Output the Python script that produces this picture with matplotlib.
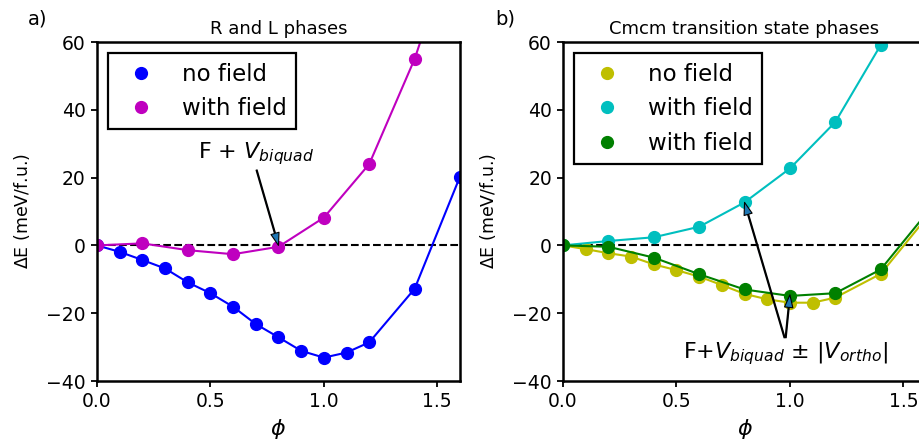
import matplotlib
matplotlib.use('Agg')
import matplotlib.pyplot as plt

# panel a: R and L phases
phi_a_nofield = [0.0, 0.1, 0.2, 0.3, 0.4, 0.5, 0.6, 0.7, 0.8, 0.9, 1.0, 1.1, 1.2, 1.4, 1.6]
e_a_nofield = [0.0, -1.9, -4.3, -6.8, -10.9, -14.1, -18.1, -23.2, -27.1, -31.1, -33.1, -31.6, -28.6, -12.8, 20.3]
phi_a_field = [0.0, 0.2, 0.4, 0.6, 0.8, 1.0, 1.2, 1.4, 1.6]
e_a_field = [0.0, 0.6, -1.4, -2.6, -0.4, 8.2, 24.0, 55.0, 95.0]

# panel b: Cmcm transition state phases
phi_b_nofield = [0.0, 0.1, 0.2, 0.3, 0.4, 0.5, 0.6, 0.7, 0.8, 0.9, 1.0, 1.1, 1.2, 1.4, 1.6]
e_b_nofield = [0.0, -1.1, -2.3, -3.3, -5.6, -7.3, -9.2, -11.7, -14.3, -15.9, -16.9, -16.9, -15.4, -8.4, 8.0]
phi_b_plus = [0.0, 0.2, 0.4, 0.6, 0.8, 1.0, 1.2, 1.4, 1.6]
e_b_plus = [0.0, 1.3, 2.4, 5.5, 12.7, 22.7, 36.4, 59.1, 90.0]
phi_b_minus = [0.0, 0.2, 0.4, 0.6, 0.8, 1.0, 1.2, 1.4, 1.6]
e_b_minus = [0.0, -0.4, -3.6, -8.5, -13.0, -14.9, -14.1, -7.1, 9.3]

FS_TICK = 13.5
FS_LEG = 16.5
ARROW = dict(width=0.8, headwidth=6, headlength=9, facecolor='#1f77b4', edgecolor='k', lw=0.8)


def style_axes(ax, title):
    ax.axhline(0, color='k', linestyle='--', linewidth=1.5, zorder=1)
    ax.set_xlim(0, 1.6)
    ax.set_ylim(-40, 60)
    ax.set_xticks([0.0, 0.5, 1.0, 1.5])
    ax.set_yticks([-40, -20, 0, 20, 40, 60])
    ax.tick_params(labelsize=FS_TICK, width=1.3, length=4.5)
    for s in ax.spines.values():
        s.set_linewidth(1.8)
    ax.set_xlabel(r'$\phi$', fontsize=16)
    ax.set_ylabel(r'$\Delta$E (meV/f.u.)', fontsize=12.5, labelpad=10)
    ax.set_title(title, fontsize=13)
    leg = ax.legend(loc='upper left', fontsize=FS_LEG, fancybox=False, framealpha=1,
                    edgecolor='k', numpoints=1)
    leg.get_frame().set_linewidth(1.6)


def curve(ax, x, y, c, label):
    ax.plot(x, y, '-', color=c, linewidth=1.5)
    ax.plot(x, y, 'o', color=c, markersize=8.5, label=label)


fig = plt.figure(figsize=(9.2, 4.45), dpi=100)
ax1 = fig.add_axes([0.1054, 0.1438, 0.3946, 0.7618])
ax2 = fig.add_axes([0.612, 0.1438, 0.3946, 0.7618])

curve(ax1, phi_a_nofield, e_a_nofield, 'b', 'no field')
curve(ax1, phi_a_field, e_a_field, 'm', 'with field')
style_axes(ax1, 'R and L phases')
ax1.annotate(r'F + $V_{biquad}$', xy=(0.8, 0), xytext=(0.7, 27),
             ha='center', va='center', fontsize=16, arrowprops=ARROW)

curve(ax2, phi_b_nofield, e_b_nofield, 'y', 'no field')
curve(ax2, phi_b_plus, e_b_plus, 'c', 'with field')
curve(ax2, phi_b_minus, e_b_minus, 'g', 'with field')
style_axes(ax2, 'Cmcm transition state phases')
ax2.annotate(r'F+$V_{biquad}$ $\pm$ $|V_{ortho}|$', xy=(0.8, 12.7), xytext=(0.98, -32),
             ha='center', va='center', fontsize=16, arrowprops=ARROW)
ax2.annotate(r'F+$V_{biquad}$ $\pm$ $|V_{ortho}|$', xy=(1.0, -14.6), xytext=(0.98, -32),
             ha='center', va='center', fontsize=16, alpha=0, arrowprops=ARROW)

fig.text(0.03, 0.945, 'a)', fontsize=14)
fig.text(0.538, 0.945, 'b)', fontsize=14)

plt.savefig('out.png', dpi=100)
